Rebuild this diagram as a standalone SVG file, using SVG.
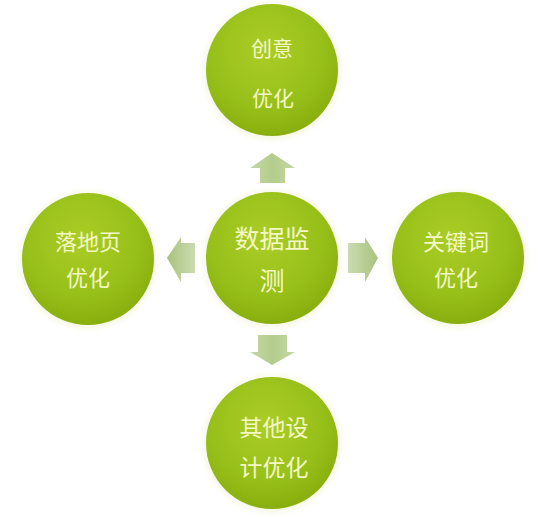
<svg xmlns="http://www.w3.org/2000/svg" width="546" height="517" viewBox="0 0 546 517">
<defs>
<radialGradient id="ball" cx="0.45" cy="0.35" r="0.7">
<stop offset="0" stop-color="#abcd26"/>
<stop offset="0.6" stop-color="#98c01a"/>
<stop offset="1" stop-color="#86ab0c"/>
</radialGradient>
<linearGradient id="arrH" x1="0" y1="0" x2="1" y2="0">
<stop offset="0" stop-color="#cadbb0"/>
<stop offset="1" stop-color="#a9c27f"/>
</linearGradient>
<linearGradient id="arrHL" x1="1" y1="0" x2="0" y2="0">
<stop offset="0" stop-color="#cadbb0"/>
<stop offset="1" stop-color="#a9c27f"/>
</linearGradient>
<linearGradient id="arrV" x1="0" y1="0" x2="1" y2="0">
<stop offset="0" stop-color="#c4d8a4"/>
<stop offset="0.5" stop-color="#b4cc8c"/>
<stop offset="1" stop-color="#c4d8a4"/>
</linearGradient>
<filter id="glow" x="-20%" y="-20%" width="140%" height="140%">
<feGaussianBlur stdDeviation="3"/>
</filter>
</defs>
<style>
.halo{fill:#f4f6e0;filter:url(#glow)}
.ball{fill:url(#ball)}
text{fill:#f3f8c6;font-family:"Noto Sans CJK SC","Noto Sans",sans-serif;text-anchor:middle}
</style>
<g id="connectors">
<polygon points="272,153 295,168 285,168 285,183 260,183 260,168 250,168" fill="url(#arrV)"/>
<polygon points="258,335 287,335 287,352 295,352 272,365 250,352 258,352" fill="url(#arrV)"/>
<polygon points="348,243 365,243 365,237 378,258 365,282 365,273 348,273" fill="url(#arrH)"/>
<polygon points="195,243 181,243 181,237 167,258 181,282 181,273 195,273" fill="url(#arrHL)"/>
</g>
<g id="node-top">
<circle class="halo" cx="272" cy="71" r="68"/>
<circle class="ball" cx="272" cy="70" r="66"/>
<text x="272" y="56" font-size="21">创意</text>
<text x="273" y="106" font-size="21">优化</text>
</g>
<g id="node-left">
<circle class="halo" cx="88" cy="260" r="68"/>
<circle class="ball" cx="88" cy="259" r="66"/>
<text x="88" y="250" font-size="22">落地页</text>
<text x="88" y="286" font-size="22">优化</text>
</g>
<g id="node-center">
<circle class="halo" cx="272" cy="259" r="68"/>
<circle class="ball" cx="272" cy="258" r="66"/>
<text x="272" y="248" font-size="25">数据监</text>
<text x="272" y="290" font-size="25">测</text>
</g>
<g id="node-right">
<circle class="halo" cx="458" cy="259" r="68"/>
<circle class="ball" cx="458" cy="258" r="66"/>
<text x="456" y="250" font-size="22">关键词</text>
<text x="456" y="286" font-size="22">优化</text>
</g>
<g id="node-bottom">
<circle class="halo" cx="272" cy="444" r="68"/>
<circle class="ball" cx="272" cy="443" r="66"/>
<text x="274" y="436" font-size="23">其他设</text>
<text x="274" y="476" font-size="23">计优化</text>
</g>
</svg>
